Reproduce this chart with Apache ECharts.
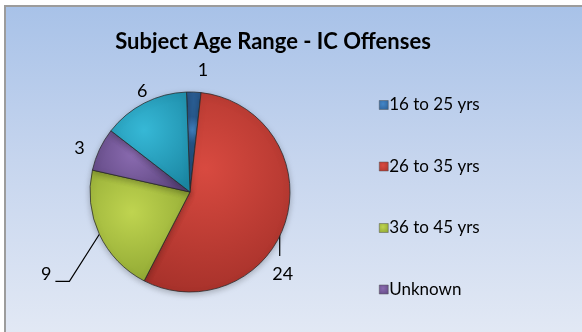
<!DOCTYPE html>
<html><head><meta charset="utf-8">
<script src="https://cdn.jsdelivr.net/npm/echarts@6/dist/echarts.min.js"></script>
<style>
html,body{margin:0;padding:0;background:#fff;width:582px;height:332px;overflow:hidden;}
#frame{position:absolute;left:4px;top:5px;width:590px;height:340px;border:2px solid #9c9c9c;
background:linear-gradient(to bottom,#a8c2e8 0%,#c6d5ee 45%,#e4eaf5 100%);}
#chart{position:absolute;left:0;top:0;width:582px;height:332px;}
</style></head>
<body><div id="frame"></div><div id="chart"></div>
<script>
const categories = ['16 to 25 yrs', '26 to 35 yrs', '36 to 45 yrs', 'Unknown', ''];
const values = [1, 24, 9, 3, 6];
const legendItems = ['16 to 25 yrs', '26 to 35 yrs', '36 to 45 yrs', 'Unknown'];
const colors = ['#4386c8', '#d84a40', '#bfd450', '#8a6bb0', '#36b8d6'];
const darkColors = ['#2a5d93', '#a8322b', '#88a02e', '#5e4680', '#1b87a3'];
const labelLen = [22, 30, 30, 2, 13];
const labelLen2 = [1, 0, 0, 16, 0];
const labelShift = [-3, 0, 0, 8, 14];

const chart = echarts.init(document.getElementById('chart'), null, {renderer: 'canvas'});
const data = values.map((v, i) => ({
  value: v, name: categories[i],
  itemStyle: {
    color: {type: 'radial', x: 0.42, y: 0.38, r: 0.85,
      colorStops: [{offset: 0, color: colors[i]}, {offset: 1, color: darkColors[i]}]}
  },
  labelLine: {show: i === 1 || i === 2, length: labelLen[i], length2: labelLen2[i]}
}));
chart.setOption({
  animation: false,
  title: {text: 'Subject Age Range - IC Offenses', left: 268, top: 26, textAlign: 'center',
    textStyle: {fontFamily: 'Lato', fontWeight: 'bold', fontSize: 22, color: '#000'}},
  legend: {data: legendItems, orient: 'vertical', left: 374, top: 90, itemGap: 41.5,
    itemWidth: 9, itemHeight: 9, icon: 'rect', itemStyle: {borderColor: '#555', borderWidth: 0.5},
    textStyle: {fontFamily: 'Lato', fontSize: 17, lineHeight: 20, color: '#000', padding: [0, 0, 0, -4]}},
  series: [{
    type: 'pie', center: [190, 192], radius: 100, startAngle: 92, clockwise: true,
    data: data,
    itemStyle: {borderColor: 'rgba(40,40,40,0.75)', borderWidth: 1,
      shadowBlur: 6, shadowColor: 'rgba(0,0,0,0.25)', shadowOffsetY: 2},
    label: {show: true, position: 'outside', formatter: '{c}', fontFamily: 'Lato',
      fontSize: 18, color: '#000'},
    labelLine: {lineStyle: {color: '#000', width: 1.2}},
    labelLayout: function (p) {
      const s = p.labelLinePoints && p.labelLinePoints[0];
      if (p.dataIndex === 1 && s) {
        const lx = s[0] - 6;
        return {x: lx + 3, y: s[1] + 53, align: 'center', verticalAlign: 'middle',
          labelLinePoints: [[lx, s[1] + 2], [lx, s[1] + 35], [lx, s[1] + 35]]};
      }
      if (p.dataIndex === 2 && s) {
        return {x: s[0] - 48, y: s[1] + 40, align: 'right', verticalAlign: 'middle',
          labelLinePoints: [[s[0], s[1]], [s[0] - 30, s[1] + 47], [s[0] - 44, s[1] + 47]]};
      }
      return {dx: labelShift[p.dataIndex]};
    }
  }]
});
</script></body></html>
